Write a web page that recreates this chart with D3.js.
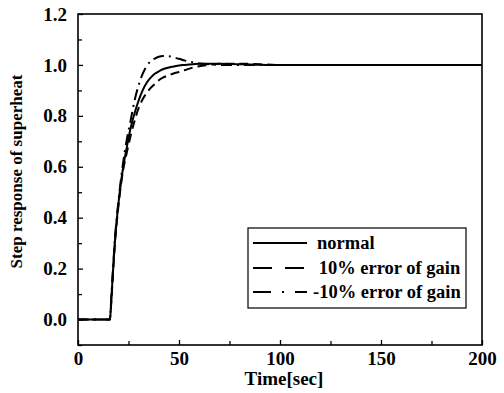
<!DOCTYPE html>
<html><head><meta charset="utf-8">
<script src="https://cdn.jsdelivr.net/npm/d3@7"></script>
<style>body{margin:0;background:#fff}</style>
</head><body>
<svg id="c" width="504" height="393"></svg>
<script>
const time =   [0, 15.8, 16.5, 17.4, 18.3, 19.3, 20.5, 22.4, 24, 26, 28, 30, 32, 34, 36, 38, 40, 42, 45, 48, 50, 53, 57, 60, 65, 70, 80, 100, 150, 200];
const normal = [0, 0, 0.08, 0.2, 0.31, 0.4, 0.49, 0.6, 0.67, 0.75, 0.81, 0.86, 0.9, 0.93, 0.95, 0.965, 0.975, 0.983, 0.99, 0.995, 0.998, 1.0, 1.003, 1.005, 1.005, 1.005, 1.003, 1.0, 1.0, 1.0];
const plus10 = [0, 0, 0.07, 0.19, 0.3, 0.39, 0.48, 0.59, 0.65, 0.72, 0.78, 0.83, 0.865, 0.89, 0.91, 0.925, 0.94, 0.95, 0.96, 0.968, 0.972, 0.98, 0.99, 0.995, 1.0, 1.005, 1.005, 1.0, 1.0, 1.0];
const minus10 =[0, 0, 0.09, 0.21, 0.32, 0.41, 0.5, 0.62, 0.7, 0.78, 0.86, 0.92, 0.965, 0.995, 1.015, 1.025, 1.032, 1.035, 1.034, 1.028, 1.024, 1.017, 1.01, 1.006, 1.003, 1.0, 1.0, 1.0, 1.0, 1.0];
const seriesNames = ["normal", " 10% error of gain", "-10% error of gain"];
const xTicks = [0, 50, 100, 150, 200];
const yTicks = [0.0, 0.2, 0.4, 0.6, 0.8, 1.0, 1.2];

const svg = d3.select("#c");
const L = 78, R = 482, T = 14, B = 345;
const x = d3.scaleLinear().domain([0, 200]).range([L, R]);
const y = d3.scaleLinear().domain([-0.1, 1.2]).range([B, T]);
const font = "'Liberation Serif','Times New Roman',serif";

// frame
svg.append("rect").attr("x", L).attr("y", T).attr("width", R - L).attr("height", B - T)
  .attr("fill", "none").attr("stroke", "#000").attr("stroke-width", 1.6);

// x axis
const xa = svg.append("g").attr("transform", `translate(0,${B})`)
  .call(d3.axisBottom(x).tickValues(xTicks).tickSize(-5).tickPadding(7).tickFormat(d3.format("d")));
const xm = svg.append("g").attr("transform", `translate(0,${B})`)
  .call(d3.axisBottom(x).tickValues([25, 75, 125, 175]).tickSize(-4).tickFormat(""));
// y axis
const ya = svg.append("g").attr("transform", `translate(${L},0)`)
  .call(d3.axisLeft(y).tickValues(yTicks).tickSize(-5).tickPadding(11).tickFormat(d3.format(".1f")));
const ym = svg.append("g").attr("transform", `translate(${L},0)`)
  .call(d3.axisLeft(y).tickValues([-0.1, 0.1, 0.3, 0.5, 0.7, 0.9, 1.1]).tickSize(-4).tickFormat(""));
[xa, xm, ya, ym].forEach(g => {
  g.select(".domain").remove();
  g.selectAll("line").attr("stroke", "#000").attr("stroke-width", 1.3);
  g.selectAll("text").attr("font-family", font).attr("font-weight", "bold")
    .attr("font-size", 19).attr("fill", "#000");
});

// titles
svg.append("text").attr("x", (L + R) / 2 + 4).attr("y", 385).attr("text-anchor", "middle")
  .attr("font-family", font).attr("font-weight", "bold").attr("font-size", 19).text("Time[sec]");
svg.append("text").attr("transform", `translate(22,${(T + B) / 2 - 8}) rotate(-90)`)
  .attr("text-anchor", "middle").attr("font-family", font).attr("font-weight", "bold")
  .attr("font-size", 17).text("Step response of superheat");

// curves
const series = [
  {vals: normal, dash: null, ldash: null},
  {vals: plus10, dash: "9,5", ldash: "19,13"},
  {vals: minus10, dash: "11,5,2,5", ldash: "18,11,2,11"}
];
const line = d3.line().x(d => x(d[0])).y(d => y(d[1])).curve(d3.curveMonotoneX);
series.forEach(s => {
  svg.append("path").datum(time.map((t, i) => [t, s.vals[i]]))
    .attr("d", line).attr("fill", "none").attr("stroke", "#000")
    .attr("stroke-width", 2).attr("stroke-dasharray", s.dash);
});

// legend
const lg = svg.append("g");
lg.append("rect").attr("x", 248).attr("y", 228).attr("width", 218).attr("height", 80)
  .attr("fill", "#fff").attr("stroke", "#000").attr("stroke-width", 1.2);
const ly = [243, 268, 292];
const tx = [317, 314, 313];
series.forEach((s, i) => {
  lg.append("line").attr("x1", 253).attr("x2", 307).attr("y1", ly[i]).attr("y2", ly[i])
    .attr("stroke", "#000").attr("stroke-width", 2).attr("stroke-dasharray", s.ldash);
  lg.append("text").attr("x", tx[i]).attr("y", ly[i]).attr("dy", "0.35em")
    .attr("font-family", font).attr("font-weight", "bold").attr("font-size", 18.5)
    .attr("xml:space", "preserve").style("white-space", "pre").text(seriesNames[i]);
});
</script>
</body></html>
